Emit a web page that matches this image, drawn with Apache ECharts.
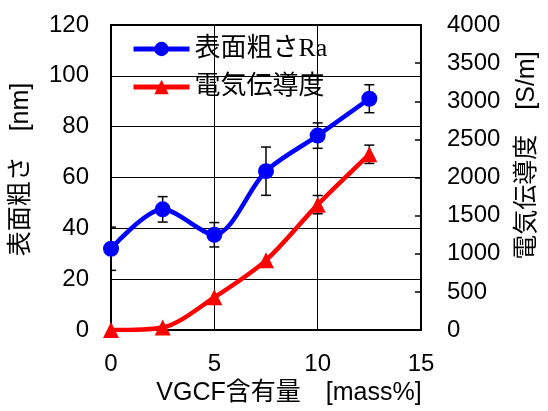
<!DOCTYPE html>
<html>
<head>
<meta charset="utf-8">
<script src="https://cdn.jsdelivr.net/npm/echarts@6/dist/echarts.min.js"></script>
<style>
html,body{margin:0;padding:0;background:#fff;}
#chart{width:548px;height:411px;}
</style>
</head>
<body>
<div id="chart"></div>
<script>
// VGCF content [mass%]
var vgcf = [0, 2.5, 5, 7.5, 10, 12.5]
// surface roughness Ra [nm] and its error
var roughness = [32, 47.5, 37.5, 62.5, 76.5, 91]
var roughErr = [8.5, 5, 4.8, 9.5, 5, 5.5]
// electrical conductivity [S/m] and its error
var conductivity = [0, 35, 430, 915, 1645, 2305]
var condErr = [0, 0, 0, 0, 120, 120]

var seriesNames = ['表面粗さRa', '電気伝導度']

function pairs(xs, ys){
    var out = []
    for(var i=0;i<xs.length;i++){
        out.push([xs[i], ys[i]])
    }
    return out
}

function errData(xs, ys, es){
    var out = []
    for(var i=0;i<xs.length;i++){
        if(es[i] > 0){
            out.push([xs[i], ys[i]-es[i], ys[i]+es[i]])
        }
    }
    return out
}

function renderErr(params, api){
    var x = api.value(0)
    var lo = api.coord([x, api.value(1)])
    var hi = api.coord([x, api.value(2)])
    var w = 5
    var style = {stroke: '#000', lineWidth: 1.5}
    return {
        type: 'group',
        children: [
            {type: 'line', shape: {x1: lo[0], y1: lo[1], x2: hi[0], y2: hi[1]}, style: style},
            {type: 'line', shape: {x1: lo[0]-w, y1: lo[1], x2: lo[0]+w, y2: lo[1]}, style: style},
            {type: 'line', shape: {x1: hi[0]-w, y1: hi[1], x2: hi[0]+w, y2: hi[1]}, style: style}
        ]
    }
}

var tickFont = {color: '#000', fontSize: 24, fontFamily: 'Liberation Sans, Arial, sans-serif'}
var nameFont = {color: '#000', fontSize: 25, fontFamily: 'Liberation Sans, Noto Sans CJK JP, sans-serif'}

var option = {
    animation: false,
    grid: {
        left: 111, right: 123, top: 25, bottom: 75,
        show: true, borderColor: '#000', borderWidth: 2
    },
    legend: {
        orient: 'vertical',
        left: 126, top: 31,
        itemWidth: 56, itemHeight: 18, itemGap: 12,
        data: seriesNames,
        lineStyle: {width: 5},
        textStyle: {color: '#000', fontSize: 26, fontFamily: 'Liberation Serif, Noto Sans CJK JP, serif'}
    },
    xAxis: {
        type: 'value',
        min: 0, max: 15, interval: 5,
        name: 'VGCF含有量　[mass%]',
        nameLocation: 'middle',
        nameGap: 50,
        nameTextStyle: Object.assign({padding: [0, 0, 0, 46]}, nameFont),
        axisLine: {lineStyle: {color: '#000', width: 2}},
        axisTick: {show: false},
        axisLabel: Object.assign({margin: 22}, tickFont),
        splitLine: {lineStyle: {color: '#000', width: 1}}
    },
    yAxis: [
        {
            type: 'value',
            min: 0, max: 120, interval: 20,
            name: '表面粗さ　[nm]',
            nameLocation: 'middle',
            nameRotate: 90,
            nameGap: 77,
            nameTextStyle: Object.assign({padding: [0, 0, 0, 16]}, nameFont),
            axisLine: {show: true, lineStyle: {color: '#000', width: 2}},
            axisTick: {show: false},
            axisLabel: Object.assign({margin: 22}, tickFont),
            splitLine: {lineStyle: {color: '#000', width: 1}}
        },
        {
            type: 'value',
            min: 0, max: 4000, interval: 500,
            position: 'right',
            name: '電気伝導度　[S/m]',
            nameLocation: 'middle',
            nameRotate: 90,
            nameGap: 94,
            nameTextStyle: Object.assign({padding: [0, 0, 0, 44]}, nameFont),
            axisLine: {show: true, lineStyle: {color: '#000', width: 2}},
            axisTick: {show: true, inside: true, length: 6, lineStyle: {color: '#000', width: 1.5}},
            axisLabel: Object.assign({margin: 26, formatter: function(v){ return String(v) }}, tickFont),
            splitLine: {show: false}
        }
    ],
    series: [
        {
            type: 'custom',
            yAxisIndex: 0,
            renderItem: renderErr,
            data: errData(vgcf, roughness, roughErr),
            clip: true,
            z: 1
        },
        {
            type: 'custom',
            yAxisIndex: 1,
            renderItem: renderErr,
            data: errData(vgcf, conductivity, condErr),
            clip: true,
            z: 1
        },
        {
            name: seriesNames[0],
            type: 'line',
            yAxisIndex: 0,
            data: pairs(vgcf, roughness),
            smooth: 0.3,
            symbol: 'circle',
            symbolSize: 16,
            lineStyle: {color: '#0000ff', width: 4.5},
            itemStyle: {color: '#0000ff'},
            z: 3
        },
        {
            name: seriesNames[1],
            type: 'line',
            yAxisIndex: 1,
            data: pairs(vgcf, conductivity),
            smooth: 0.3,
            symbol: 'triangle',
            symbolSize: 16,
            lineStyle: {color: '#ff0000', width: 4.5},
            itemStyle: {color: '#ff0000'},
            z: 3
        }
    ]
}

var myChart = echarts.init(document.getElementById('chart'))
myChart.setOption(option)
</script>
</body>
</html>
